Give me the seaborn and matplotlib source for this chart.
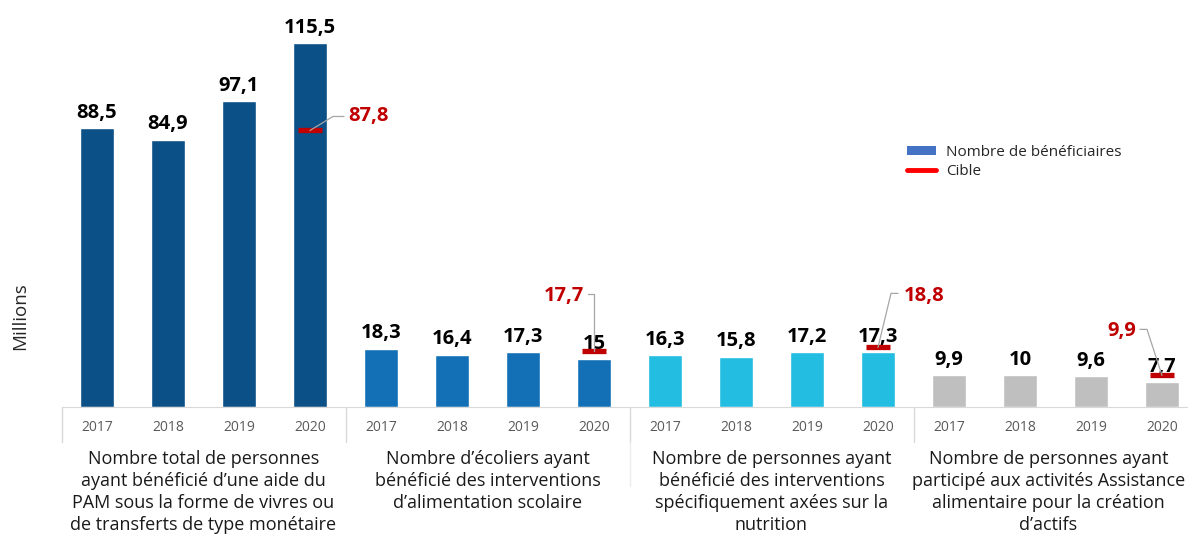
import numpy as np
import pandas as pd
import seaborn as sns
import matplotlib.pyplot as plt
from matplotlib.patches import Patch
from matplotlib.lines import Line2D
from matplotlib.transforms import IdentityTransform

# data
years = ['2017', '2018', '2019', '2020']
groups = [
    "Nombre total de personnes\nayant bénéficié d\u2019une aide du\nPAM sous la forme de vivres ou\nde transferts de type monétaire",
    "Nombre d\u2019écoliers ayant\nbénéficié des interventions\nd\u2019alimentation scolaire",
    "Nombre de personnes ayant\nbénéficié des interventions\nspécifiquement axées sur la\nnutrition",
    "Nombre de personnes ayant\nparticipé aux activités Assistance\nalimentaire pour la création\nd\u2019actifs",
]
total_beneficiaires = [88.5, 84.9, 97.1, 115.5]
alimentation_scolaire = [18.3, 16.4, 17.3, 15.0]
nutrition = [16.3, 15.8, 17.2, 17.3]
assistance_actifs = [9.9, 10.0, 9.6, 7.7]
cibles_2020 = [87.8, 17.7, 18.8, 9.9]

colors = ['#0b5086', '#1370b6', '#22bde0', '#bfbfbf']
red = '#c00000'

series = [total_beneficiaires, alimentation_scolaire, nutrition, assistance_actifs]
rows = []
for g, vals in enumerate(series):
    for y, v in zip(years, vals):
        rows.append({'slot': f'{g}-{y}', 'groupe': g, 'annee': y, 'valeur': v})
df = pd.DataFrame(rows)

sns.set_style('white')
plt.rcParams['font.family'] = ['Open Sans', 'DejaVu Sans']

W, H = 1188, 537
fig = plt.figure(figsize=(W / 100, H / 100), dpi=100)
ax_left, ax_right, base_y = 61.5, 1197.5, 406.5
ax = fig.add_axes([ax_left / W, (H - base_y) / H, (ax_right - ax_left) / W, base_y / H])

sns.barplot(data=df, x='slot', y='valeur', hue='groupe', palette=colors,
            dodge=False, width=0.48, saturation=1, legend=False, ax=ax)
ax.set_xlim(-0.5, 15.5)
ax.set_ylim(0, 129.3)

def fmt(v):
    return f'{v:g}'.replace('.', ',')

for i, v in enumerate(df['valeur']):
    ax.annotate(fmt(v), (i, v), xytext=(0, 4), textcoords='offset points',
                ha='center', va='bottom', fontsize=14.5, fontweight='bold', color='black')

# targets on 2020 bars
idx2020 = [3, 7, 11, 15]
ax.hlines(cibles_2020, [i - 0.17 for i in idx2020], [i + 0.17 for i in idx2020],
          colors=red, linewidth=3.8, zorder=3)

# leader lines (pixel offsets from marker) and labels
leaders = [
    ([(0, 0), (23, -14), (34, -14)], (38, -14), 'left'),
    ([(0, 0), (0, -57), (-6, -57)], (-10, -55), 'right'),
    ([(0, 0), (13, -54), (20, -54)], (26, -51), 'left'),
    ([(0, 0), (-15, -46), (-22, -46)], (-26, -44), 'right'),
]
fig.canvas.draw()
for i, c, (path, lab, ha) in zip(idx2020, cibles_2020, leaders):
    px, py = ax.transData.transform((i, c))
    xs = [px + dx for dx, dy in path]
    ys = [py - dy for dx, dy in path]
    fig.add_artist(Line2D(xs, ys, transform=IdentityTransform(), color='#a6a6a6', lw=0.9, zorder=4))
    fig.text(px + lab[0], py - lab[1], fmt(c), transform=IdentityTransform(),
             ha=ha, va='center', fontsize=14.5, fontweight='bold', color=red)

# axes styling
for s in ['top', 'right', 'left']:
    ax.spines[s].set_visible(False)
ax.spines['bottom'].set_color('#d9d9d9')
ax.set_yticks([])
ax.set_ylabel('')
ax.set_xlabel('')
ax.set_xticks(range(16))
ax.set_xticklabels(list(df['annee']), fontsize=10, color='#595959')
ax.tick_params(axis='x', length=0, pad=10)

# group separators and group labels
sep_len = (442 - base_y) / base_y
for xs in [-0.5, 3.5, 7.5, 11.5, 15.5]:
    ax.plot([xs, xs], [0, -sep_len], color='#d9d9d9', lw=1,
            transform=ax.get_xaxis_transform(), clip_on=False)
ax.plot([7.5, 7.5], [-sep_len, -(486 - base_y) / base_y], color='#ececec', lw=1,
        transform=ax.get_xaxis_transform(), clip_on=False)
label_shift = [0, 0, 0, -0.1]
for g, lab in enumerate(groups):
    ax.text(g * 4 + 1.5 + label_shift[g], -(450 - base_y) / base_y, lab,
            transform=ax.get_xaxis_transform(),
            ha='center', va='top', fontsize=13, color='#1a1a1a', linespacing=1.28)

fig.text(20 / W, 1 - 316 / H, 'Millions', rotation=90, ha='center', va='center',
         fontsize=13.5, color='#262626')

handles = [Patch(facecolor='#4472c4', edgecolor='none'),
           Line2D([0], [0], color='#ff0000', lw=3.5)]
fig.legend(handles, ['Nombre de bénéficiaires', 'Cible'], loc='upper left',
           bbox_to_anchor=(893 / W, 1 - 131 / H), frameon=False, fontsize=11,
           handlelength=1.9, handleheight=0.5, labelspacing=0.3, handletextpad=0.7)

fig.savefig('out.png', dpi=100)
